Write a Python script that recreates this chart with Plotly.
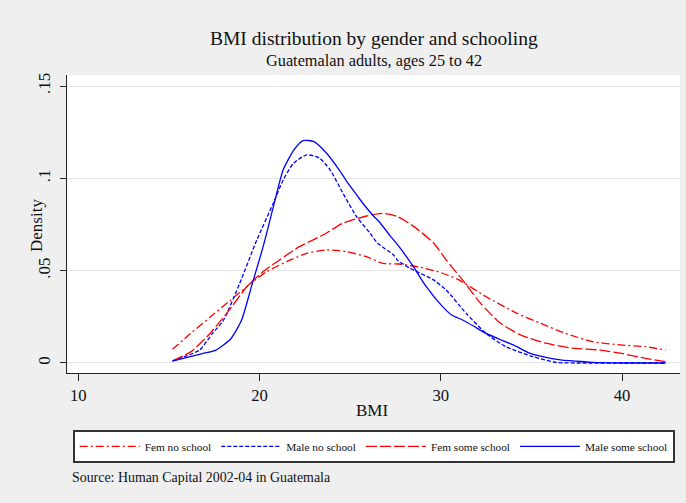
import plotly.graph_objects as go

# ---- data ----
fem_no_x = [15.2, 16.2, 17.3, 18.4, 19.5, 20.4, 21.5, 22.6, 23.7, 24.8, 25.9, 26.8, 27.7, 28.8, 30.1, 31.0, 32.5, 34.2, 35.5, 36.9, 38.4, 39.9, 41.3, 42.4]
fem_no_y = [0.0074, 0.016, 0.025, 0.034, 0.043, 0.0495, 0.0549, 0.0594, 0.0612, 0.0603, 0.0576, 0.054, 0.0536, 0.052, 0.0486, 0.045, 0.0359, 0.0269, 0.0215, 0.016, 0.0115, 0.0098, 0.0088, 0.007]

male_no_x = [15.2, 16.0, 16.7, 17.4, 18.0, 18.9, 19.85, 20.76, 21.3, 21.86, 22.6, 23.3, 23.9, 24.6, 25.35, 26.1, 26.5, 27.4, 27.6, 28.3, 29.6, 30.3, 31.4, 32.5, 33.6, 35.1, 36.4, 38.0, 40.0, 42.4]
male_no_y = [0.0012, 0.004, 0.007, 0.016, 0.023, 0.043, 0.0666, 0.0865, 0.099, 0.108, 0.1127, 0.111, 0.1045, 0.092, 0.0793, 0.0703, 0.065, 0.0585, 0.0558, 0.0513, 0.045, 0.0395, 0.0269, 0.016, 0.0088, 0.0034, 0.0003, 0.0, 0.0, 0.0]

fem_some_x = [15.2, 16.2, 17.1, 18.2, 19.3, 20.2, 21.1, 22.2, 23.5, 24.6, 25.9, 26.8, 27.6, 28.5, 29.6, 30.3, 31.2, 32.2, 33.3, 34.4, 35.8, 37.3, 38.8, 39.9, 41.3, 42.4]
fem_some_y = [0.0012, 0.006, 0.0142, 0.027, 0.0413, 0.0495, 0.0558, 0.063, 0.0693, 0.0757, 0.0796, 0.081, 0.0793, 0.074, 0.065, 0.0558, 0.045, 0.0323, 0.0215, 0.0152, 0.0107, 0.008, 0.007, 0.0053, 0.0025, 0.0007]

male_some_x = [15.2, 16.0, 16.8, 17.6, 18.4, 19.0, 19.6, 20.2, 20.8, 21.3, 21.9, 22.4, 23.0, 23.7, 24.4, 24.8, 25.4, 25.7, 26.3, 26.6, 27.2, 27.7, 28.5, 29.2, 30.1, 30.6, 31.2, 31.8, 32.5, 33.2, 34.0, 34.9, 35.8, 36.7, 37.5, 38.4, 40.0, 42.4]
male_some_y = [0.001, 0.003, 0.005, 0.007, 0.013, 0.023, 0.043, 0.063, 0.086, 0.1045, 0.1154, 0.1204, 0.1199, 0.1136, 0.1045, 0.0985, 0.0905, 0.0865, 0.0795, 0.0765, 0.069, 0.063, 0.052, 0.0413, 0.0305, 0.026, 0.0233, 0.020, 0.016, 0.013, 0.0098, 0.0053, 0.003, 0.0016, 0.001, 0.0003, 0.0, 0.0]

y_tickvals = [0, 0.05, 0.1, 0.15]
y_ticktext = ["0", ".05", ".1", ".15"]
x_tickvals = [10, 20, 30, 40]
x_ticktext = ["10", "20", "30", "40"]

FONT = "Liberation Serif"
TXT = "#111111"
RED = "#ff0000"
BLUE = "#0000ff"

series = [
    ("Fem no school", fem_no_x, fem_no_y, RED, "8px,3px,2px,3px"),
    ("Male no school", male_no_x, male_no_y, BLUE, "4px,2px"),
    ("Fem some school", fem_some_x, fem_some_y, RED, "11px,3px"),
    ("Male some school", male_some_x, male_some_y, BLUE, "solid"),
]

fig = go.Figure()
for name, xs, ys, col, dash in series:
    fig.add_trace(go.Scatter(
        x=xs, y=ys, mode="lines", name=name,
        line=dict(color=col, width=1.3, dash=dash, shape="spline", smoothing=0.6),
    ))

fig.update_layout(
    width=686, height=503,
    margin=dict(l=67, r=6, t=75, b=130, autoexpand=False),
    paper_bgcolor="#efefef",
    plot_bgcolor="white",
    font=dict(family=FONT, color=TXT),
    showlegend=True,
    legend=dict(
        orientation="h",
        x=0.0093, xanchor="left",
        y=-0.191, yanchor="top",
        bgcolor="white",
        bordercolor="#333333", borderwidth=2,
        font=dict(family=FONT, size=11.3, color=TXT),
        itemwidth=60,
        traceorder="normal",
    ),
    annotations=[
        dict(text="BMI distribution by gender and schooling", xref="paper", yref="paper",
             x=0.5, y=1.124, xanchor="center", yanchor="middle", showarrow=False,
             font=dict(family=FONT, size=19.5, color=TXT)),
        dict(text="Guatemalan adults, ages 25 to 42", xref="paper", yref="paper",
             x=0.5, y=1.047, xanchor="center", yanchor="middle", showarrow=False,
             font=dict(family=FONT, size=16.3, color=TXT)),
        dict(text="Source: Human Capital 2002-04 in Guatemala", xref="paper", yref="paper",
             x=0.0049, y=-0.352, xanchor="left", yanchor="middle", showarrow=False,
             font=dict(family=FONT, size=13.9, color=TXT)),
        dict(text="Density", xref="paper", yref="paper", x=-0.0506, y=0.4966,
             xanchor="center", yanchor="middle", textangle=-90, showarrow=False,
             font=dict(family=FONT, size=17, color=TXT)),
        dict(text="BMI", xref="paper", yref="paper", x=0.4976, y=-0.1275,
             xanchor="center", yanchor="middle", showarrow=False,
             font=dict(family=FONT, size=17, color=TXT)),
    ],
)

fig.update_xaxes(
    range=[9.377, 43.2], tickvals=x_tickvals, ticktext=x_ticktext,
    showgrid=False, zeroline=False, automargin=False,
    showline=True, linecolor="#222222", linewidth=1.3,
    ticks="outside", ticklen=7, tickcolor="#222222", tickwidth=1.3,
    tickfont=dict(family=FONT, size=16.7, color=TXT),
)
fig.update_yaxes(
    range=[-0.00542, 0.15596], tickvals=y_tickvals, ticktext=y_ticktext,
    showgrid=True, gridcolor="#e4e4e4", gridwidth=1, zeroline=False, automargin=False,
    showline=True, linecolor="#222222", linewidth=1.3,
    ticks="outside", ticklen=6, tickcolor="#222222", tickwidth=1.3,
    tickangle=-90, ticklabelstandoff=3,
    tickfont=dict(family=FONT, size=17, color=TXT),
)

fig.write_html(
    "out.html",
    config={"displayModeBar": False},
    post_script="document.body.style.margin='0';document.body.style.background='#efefef';",
)
